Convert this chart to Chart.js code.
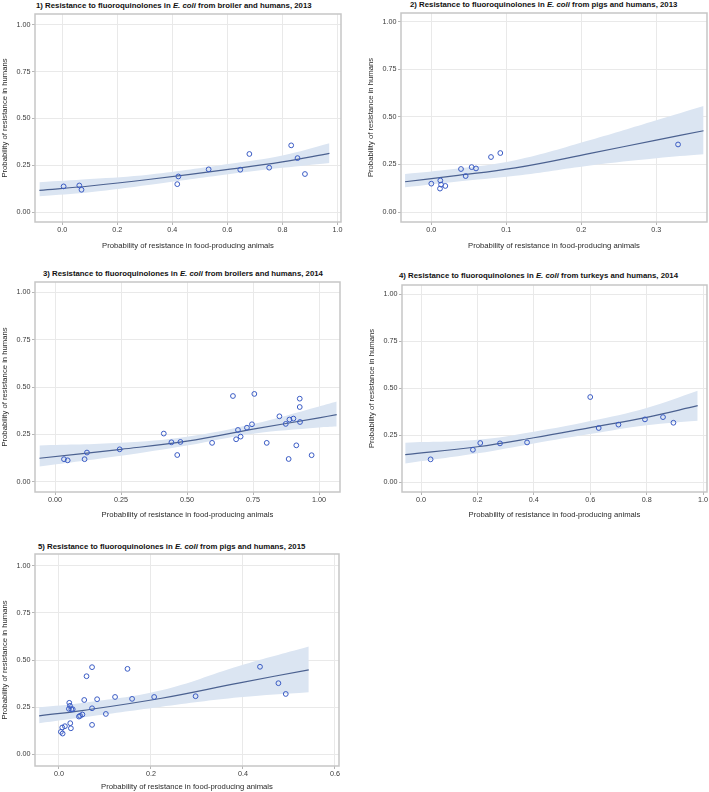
<!DOCTYPE html>
<html>
<head>
<meta charset="utf-8">
<script src="https://cdn.jsdelivr.net/npm/chart.js@4.4.1/dist/chart.umd.min.js"></script>
<style>
  body { margin: 0; background: #fff; }
  #page { position: relative; width: 709px; height: 792px; overflow: hidden; background: #fff; }
  canvas { position: absolute; }
  .title { position: absolute; font: bold 7.8px "Liberation Sans", Arial, sans-serif; white-space: nowrap; line-height: 9px; color: #111; }
</style>
</head>
<body>
<div id="page"></div>
<script>
// Panel 1: broiler 2013
const p1X = [0.005, 0.062, 0.070, 0.418, 0.422, 0.532, 0.647, 0.680, 0.752, 0.832, 0.855, 0.882];
const p1Y = [0.137, 0.142, 0.119, 0.149, 0.190, 0.228, 0.226, 0.310, 0.237, 0.356, 0.288, 0.203];
const p1FitX = [-0.083, 0.1, 0.32, 0.61, 0.8, 0.971];
const p1Fit = [0.116, 0.139, 0.175, 0.229, 0.268, 0.313];
const p1Upper = [0.159, 0.176, 0.201, 0.258, 0.302, 0.367];
const p1Lower = [0.085, 0.106, 0.146, 0.203, 0.236, 0.262];

// Panel 2: pigs 2013
const p2X = [0.000, 0.012, 0.013, 0.0116, 0.0187, 0.0396, 0.0458, 0.0538, 0.0596, 0.0796, 0.092, 0.329];
const p2Y = [0.149, 0.166, 0.144, 0.123, 0.137, 0.226, 0.189, 0.236, 0.229, 0.289, 0.310, 0.355];
const p2FitX = [-0.035, 0.03, 0.112, 0.212, 0.3, 0.363];
const p2Fit = [0.159, 0.190, 0.232, 0.308, 0.378, 0.427];
const p2Upper = [0.200, 0.226, 0.272, 0.378, 0.482, 0.557];
const p2Lower = [0.130, 0.158, 0.190, 0.245, 0.283, 0.303];

// Panel 3: broilers 2014
const p3X = [0.034, 0.048, 0.112, 0.121, 0.245, 0.412, 0.441, 0.463, 0.475, 0.595, 0.674, 0.686, 0.693, 0.703,
             0.727, 0.746, 0.755, 0.802, 0.850, 0.874, 0.885, 0.888, 0.903, 0.914, 0.927, 0.927, 0.928, 0.972];
const p3Y = [0.120, 0.114, 0.120, 0.155, 0.172, 0.255, 0.209, 0.142, 0.211, 0.206, 0.453, 0.225, 0.274, 0.239,
             0.286, 0.304, 0.464, 0.206, 0.346, 0.306, 0.121, 0.329, 0.334, 0.193, 0.439, 0.395, 0.316, 0.141];
const p3FitX = [-0.059, 0.25, 0.5, 0.75, 1.0, 1.067];
const p3Fit = [0.125, 0.172, 0.215, 0.278, 0.338, 0.355];
const p3Upper = [0.192, 0.206, 0.238, 0.305, 0.398, 0.424];
const p3Lower = [0.081, 0.138, 0.192, 0.254, 0.287, 0.292];

// Panel 4: turkeys 2014
const p4X = [0.034, 0.184, 0.210, 0.280, 0.376, 0.600, 0.630, 0.700, 0.794, 0.858, 0.895];
const p4Y = [0.121, 0.172, 0.208, 0.206, 0.211, 0.453, 0.288, 0.306, 0.334, 0.346, 0.316];
const p4FitX = [-0.056, 0.2, 0.4, 0.6, 0.8, 0.981];
const p4Fit = [0.146, 0.188, 0.236, 0.290, 0.345, 0.407];
const p4Upper = [0.210, 0.225, 0.268, 0.325, 0.395, 0.487];
const p4Lower = [0.099, 0.153, 0.206, 0.256, 0.303, 0.327];

// Panel 5: pigs 2015
const p5X = [0.0043, 0.008, 0.0072, 0.013, 0.0225, 0.0217, 0.024, 0.0246, 0.026, 0.027, 0.030, 0.0435, 0.046, 0.051,
             0.055, 0.060, 0.072, 0.072, 0.072, 0.083, 0.102, 0.122, 0.149, 0.159, 0.207, 0.297, 0.437, 0.477, 0.493];
const p5Y = [0.119, 0.110, 0.142, 0.149, 0.273, 0.241, 0.257, 0.165, 0.138, 0.239, 0.239, 0.200, 0.204, 0.211,
             0.288, 0.414, 0.462, 0.244, 0.156, 0.292, 0.214, 0.304, 0.453, 0.294, 0.304, 0.308, 0.464, 0.377, 0.320];
const p5FitX = [-0.043, 0.05, 0.22, 0.393, 0.543];
const p5Fit = [0.204, 0.232, 0.296, 0.379, 0.448];
const p5Upper = [0.249, 0.272, 0.338, 0.470, 0.572];
const p5Lower = [0.165, 0.195, 0.251, 0.302, 0.329];

// tick labels
const yTicks = [0, 0.25, 0.5, 0.75, 1.0];
const xTicksTenth = [0, 0.2, 0.4, 0.6, 0.8, 1.0];
const xTicksPigs13 = [0, 0.1, 0.2, 0.3];
const xTicksQuarter = [0, 0.25, 0.5, 0.75, 1.0];
const xTicksPigs15 = [0, 0.2, 0.4, 0.6];

const titles = [
  ['1) Resistance to fluoroquinolones in ', 'E. coli', ' from broiler and humans, 2013'],
  ['2) Resistance to fluoroquinolones in ', 'E. coli', ' from pigs and humans, 2013'],
  ['3) Resistance to fluoroquinolones in ', 'E. coli', ' from broilers and humans, 2014'],
  ['4) Resistance to fluoroquinolones in ', 'E. coli', ' from turkeys and humans, 2014'],
  ['5) Resistance to fluoroquinolones in ', 'E. coli', ' from pigs and humans, 2015']
];
const xAxisTitle = 'Probability of resistance in food-producing animals';
const yAxisTitle = 'Probability of resistance in humans';

// layout: frame = [left, right, top, bottom] in page pixels
const panels = [
  { px: p1X, py: p1Y, fx: p1FitX, fit: p1Fit, up: p1Upper, lo: p1Lower, xTicks: xTicksTenth, dec: 1,
    frame: [35, 341, 14, 222], xMin: -0.099, xMax: 1.013, yMin: -0.053, yMax: 1.057, gap: 23.7, tl: [36, 5.5] },
  { px: p2X, py: p2Y, fx: p2FitX, fit: p2Fit, up: p2Upper, lo: p2Lower, xTicks: xTicksPigs13, dec: 1,
    frame: [401, 707, 13, 222], xMin: -0.0404, xMax: 0.3676, yMin: -0.0525, yMax: 1.046, gap: 23.7, tl: [410, 4.5] },
  { px: p3X, py: p3Y, fx: p3FitX, fit: p3Fit, up: p3Upper, lo: p3Lower, xTicks: xTicksQuarter, dec: 2,
    frame: [35, 340, 282, 492], xMin: -0.0758, xMax: 1.0795, yMin: -0.053, yMax: 1.054, gap: 23, tl: [43, 273.3] },
  { px: p4X, py: p4Y, fx: p4FitX, fit: p4Fit, up: p4Upper, lo: p4Lower, xTicks: xTicksTenth, dec: 1,
    frame: [402, 707, 285, 492], xMin: -0.0674, xMax: 1.014, yMin: -0.053, yMax: 1.05, gap: 23, tl: [399, 275] },
  { px: p5X, py: p5Y, fx: p5FitX, fit: p5Fit, up: p5Upper, lo: p5Lower, xTicks: xTicksPigs15, dec: 1,
    frame: [35, 339, 554, 766], xMin: -0.052, xMax: 0.6087, yMin: -0.062, yMax: 1.062, gap: 21, tl: [38, 546] }
];

const Y_AXIS_W = 35, X_AXIS_H = 30, PAD_TOP = 6, PAD_RIGHT = 12;
const FONT = '"Liberation Sans", Arial, sans-serif';
const page = document.getElementById('page');

// grey box around the plot area
const framePlugin = {
  id: 'frame',
  afterDraw(chart) {
    const { ctx, chartArea: a } = chart;
    ctx.save();
    ctx.strokeStyle = '#c6c6c6';
    ctx.lineWidth = 1.5;
    ctx.strokeRect(a.left, a.top, a.right - a.left, a.bottom - a.top);
    ctx.restore();
  }
};

function pairs(xs, ys) {
  return xs.map((x, i) => ({ x: x, y: ys[i] }));
}

panels.forEach((p, idx) => {
  const left = p.frame[0] - Y_AXIS_W;
  const top = p.frame[2] - PAD_TOP;
  const w = p.frame[1] + PAD_RIGHT - left;
  const h = p.frame[3] + X_AXIS_H - top;

  const title = document.createElement('div');
  title.className = 'title';
  title.style.left = p.tl[0] + 'px';
  title.style.top = (p.tl[1] - 4.5) + 'px';
  title.innerHTML = titles[idx][0] + '<i>' + titles[idx][1] + '</i>' + titles[idx][2];
  page.appendChild(title);

  const canvas = document.createElement('canvas');
  canvas.width = w;
  canvas.height = h;
  canvas.style.left = left + 'px';
  canvas.style.top = top + 'px';
  canvas.style.width = w + 'px';
  canvas.style.height = h + 'px';
  page.appendChild(canvas);

  const curve = { showLine: true, pointRadius: 0, tension: 0.4 };

  new Chart(canvas.getContext('2d'), {
    type: 'scatter',
    data: {
      datasets: [
        { data: pairs(p.px, p.py), order: 0, pointStyle: 'circle', pointRadius: 2.4, borderWidth: 1,
          borderColor: '#3a5bc4', backgroundColor: 'rgba(0,0,0,0)' },
        Object.assign({ data: pairs(p.fx, p.fit), order: 1, borderColor: '#4b6190', borderWidth: 1.2 }, curve),
        Object.assign({ data: pairs(p.fx, p.up), order: 2, borderWidth: 0, borderColor: 'rgba(0,0,0,0)',
          backgroundColor: '#dbe5f2', fill: '+1' }, curve),
        Object.assign({ data: pairs(p.fx, p.lo), order: 3, borderWidth: 0, borderColor: 'rgba(0,0,0,0)' }, curve)
      ]
    },
    options: {
      responsive: false,
      animation: false,
      layout: { padding: { top: PAD_TOP, right: PAD_RIGHT, left: 0, bottom: 0 } },
      plugins: { legend: { display: false }, tooltip: { enabled: false } },
      scales: {
        x: {
          type: 'linear',
          min: p.xMin, max: p.xMax,
          afterBuildTicks: s => { s.ticks = p.xTicks.map(v => ({ value: v })); },
          afterFit: s => { s.height = X_AXIS_H; },
          ticks: { font: { family: FONT, size: 7.2 }, color: '#3a3a3a', padding: 1.2,
                   callback: v => v.toFixed(p.dec), maxRotation: 0, autoSkip: false },
          grid: { color: '#e9e9e9', tickColor: '#b5b5b5', tickLength: 3 },
          border: { display: false },
          title: { display: true, text: xAxisTitle, color: '#2a2a2a', font: { family: FONT, size: 7.7 },
                   padding: { top: 0, bottom: X_AXIS_H - p.gap - 4.62 } }
        },
        y: {
          type: 'linear',
          min: p.yMin, max: p.yMax,
          afterBuildTicks: s => { s.ticks = yTicks.map(v => ({ value: v })); },
          afterFit: s => { s.width = Y_AXIS_W; },
          ticks: { font: { family: FONT, size: 7.2 }, color: '#3a3a3a', padding: 1.5,
                   callback: v => v.toFixed(2) },
          grid: { color: '#e9e9e9', tickColor: '#b5b5b5', tickLength: 3 },
          border: { display: false },
          title: { display: true, text: yAxisTitle, color: '#2a2a2a', font: { family: FONT, size: 7.7 },
                   padding: { top: 0.1, bottom: 0 } }
        }
      }
    },
    plugins: [framePlugin]
  });
});
</script>
</body>
</html>
